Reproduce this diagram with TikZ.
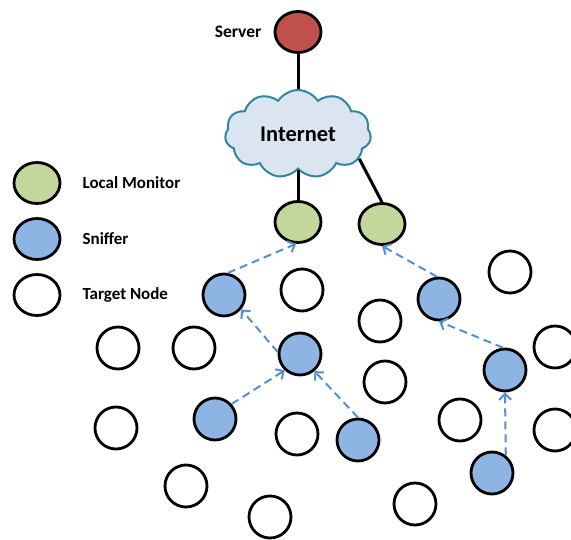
\documentclass[tikz,border=0pt]{standalone}
\usepackage{fontspec}
\setmainfont{Carlito}
\usepackage{tikz}
\usetikzlibrary{shapes.geometric,shapes.symbols,positioning,arrows.meta}

\definecolor{srvred}{RGB}{192,80,77}
\definecolor{mongreen}{RGB}{195,214,155}
\definecolor{snifblue}{RGB}{142,180,227}
\definecolor{hopblue}{RGB}{85,142,213}
\definecolor{cloudfill}{RGB}{219,229,241}
\definecolor{cloudedge}{RGB}{49,133,156}

\begin{document}
\begin{tikzpicture}[x=1pt,y=-1pt,
		target/.style={circle,draw,line width=2.8pt,minimum size=42pt,inner sep=0pt},
		sniffer/.style={target,fill=snifblue},
		monitor/.style={ellipse,draw,line width=2.8pt,minimum width=46pt,minimum height=41pt,inner sep=0pt,fill=mongreen},
		tag/.style={inner sep=0pt,font=\bfseries\fontsize{17}{20}\selectfont},
		link/.style={line width=3pt},
		hop/.style={-{Straight Barb[length=6pt,width=12pt,line width=2pt]},line width=2pt,draw=hopblue,dash pattern=on 8pt off 5pt}]
				\useasboundingbox (0,0) rectangle (571,540);

				\node[monitor,fill=srvred] (srv) at (298,32) {};
				\node[tag,left=12pt of srv,font=\bfseries\fontsize{17.5}{20}\selectfont] (srvtag) {Server};
				\node[cloud,cloud puffs=11,cloud puff arc=115,aspect=1.6,draw=cloudedge,fill=cloudfill,line width=2pt,
					minimum width=146pt,minimum height=88pt,inner sep=0pt,font=\bfseries\fontsize{22.5}{26}\selectfont] (inet) at (298,134) {Internet};

				\node[monitor] (lm1) at (298,222) {};
				\node[monitor] (lm2) at (382,224) {};

				\draw[link] (srv) -- (inet);
				\draw[link] (inet) -- (lm1);
				\draw[link] (inet.-22) -- (lm2.north);

				% legend
				\node[monitor] (leg1) at (37,183) {};
				\node[monitor,fill=snifblue] (leg2) at (37,239) {};
				\node[monitor,fill=white] (leg3) at (37,295) {};
				\node[tag,right=21pt of leg1] (leg1tag) {Local Monitor};
				\node[tag,right=21pt of leg2] (leg2tag) {Sniffer};
				\node[tag,right=21pt of leg3] (leg3tag) {Target Node};

				\foreach \x/\y [count=\i] in {302/290,380/321,385/382,297/434,460/420,510/272,555/347,555/430,
					118/348,194/348,116/428,186/486,270/517,415/504}
				\node[target] (t\i) at (\x,\y) {};

				\node[sniffer] (a) at (224,295) {};
				\node[sniffer] (b) at (300,354) {};
				\node[sniffer] (c) at (215,419) {};
				\node[sniffer] (d) at (358,440) {};
				\node[sniffer] (e) at (439,299) {};
				\node[sniffer] (f) at (505,370) {};
				\node[sniffer] (g) at (492,473) {};

				\draw[hop] (a.80) -- (lm1.265);
				\draw[hop] (b.175) -- (a.-40);
				\draw[hop] (c.42) -- (b.227);
				\draw[hop] (d.90) -- (b.-50);
				\draw[hop] (e.95) -- (lm2.270);
				\draw[hop] (f.95) -- (e.270);
				\draw[hop] (g.52) -- (f.270);
			\end{tikzpicture}
\end{document}
